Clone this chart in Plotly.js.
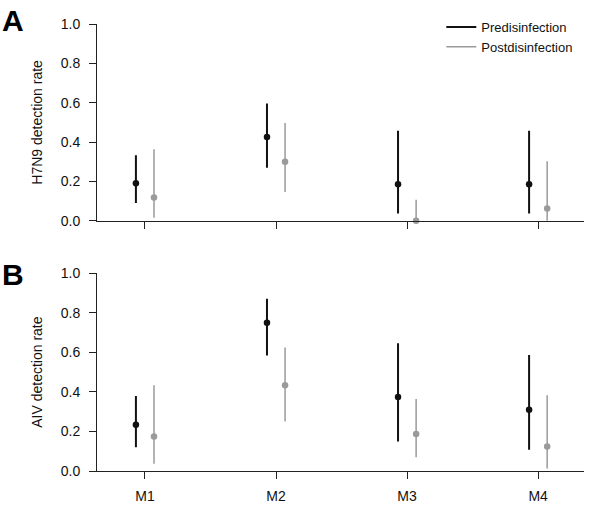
<!DOCTYPE html>
<html>
<head>
<meta charset="utf-8">
<script src="https://cdn.plot.ly/plotly-3.0.1.min.js"></script>
<style>
  body { margin: 0; background: #fff; }
  #chart { width: 600px; height: 514px; }
</style>
</head>
<body>
<div id="chart"></div>
<script>
// sites
const sites = ["M1", "M2", "M3", "M4"];

// H7N9 detection rate (panel A)
const h7n9Pre      = [0.191, 0.426, 0.186, 0.186];
const h7n9PreLow   = [0.090, 0.270, 0.037, 0.037];
const h7n9PreHigh  = [0.333, 0.596, 0.457, 0.457];
const h7n9Post     = [0.119, 0.300, 0.000, 0.062];
const h7n9PostLow  = [0.015, 0.146, 0.000, 0.000];
const h7n9PostHigh = [0.363, 0.497, 0.107, 0.303];

// AIV detection rate (panel B)
const aivPre      = [0.234, 0.750, 0.374, 0.310];
const aivPreLow   = [0.120, 0.584, 0.149, 0.107];
const aivPreHigh  = [0.379, 0.871, 0.646, 0.586];
const aivPost     = [0.175, 0.433, 0.187, 0.124];
const aivPostLow  = [0.037, 0.250, 0.070, 0.012];
const aivPostHigh = [0.434, 0.624, 0.364, 0.383];

const preColor = "#111111";
const postColor = "#9a9a9a";
const font = "Liberation Sans, Arial, sans-serif";

function pointTrace(vals, low, high, shift, color, lw, xa, ya) {
    return {
        x: sites.map((s, i) => i + 1 + shift),
        y: vals,
        xaxis: xa, yaxis: ya,
        type: "scatter",
        mode: "markers",
        showlegend: false,
        cliponaxis: false,
        marker: {color: color, size: 6.5},
        error_y: {
            type: "data",
            symmetric: false,
            array: high.map((h, i) => h - vals[i]),
            arrayminus: low.map((l, i) => vals[i] - l),
            color: color,
            thickness: lw,
            width: 0
        }
    };
}

const data = [
    pointTrace(h7n9Pre, h7n9PreLow, h7n9PreHigh, -0.069, preColor, 2, "x", "y"),
    pointTrace(h7n9Post, h7n9PostLow, h7n9PostHigh, 0.069, postColor, 1.5, "x", "y"),
    pointTrace(aivPre, aivPreLow, aivPreHigh, -0.069, preColor, 2, "x2", "y2"),
    pointTrace(aivPost, aivPostLow, aivPostHigh, 0.069, postColor, 1.5, "x2", "y2"),
    // legend entries drawn as lines
    {x: [null], y: [null], type: "scatter", mode: "lines", name: "Predisinfection",
     line: {color: preColor, width: 2}, xaxis: "x", yaxis: "y"},
    {x: [null], y: [null], type: "scatter", mode: "lines", name: "Postdisinfection",
     line: {color: postColor, width: 1.5}, xaxis: "x", yaxis: "y"}
];

function xAxis(showLabels, anchor) {
    return {
        anchor: anchor,
        range: [0.634, 4.35],
        tickvals: sites.map((s, i) => i + 1),
        ticktext: sites,
        showticklabels: showLabels,
        ticks: "outside", ticklen: 7, tickwidth: 1, tickcolor: "#222",
        ticklabelstandoff: 5,
        showline: true, linecolor: "#222", linewidth: 1,
        showgrid: false, zeroline: false,
        tickfont: {family: font, size: 14, color: "#111"}
    };
}

function yAxis(title, domain, anchor) {
    return {
        anchor: anchor,
        domain: domain,
        range: [0, 1],
        tickvals: [0, 0.2, 0.4, 0.6, 0.8, 1.0],
        tickformat: ".1f",
        ticks: "outside", ticklen: 7, tickwidth: 1, tickcolor: "#222",
        ticklabelstandoff: 6,
        showline: true, linecolor: "#222", linewidth: 1,
        showgrid: false, zeroline: false,
        tickfont: {family: font, size: 14, color: "#111"},
        title: {text: title, standoff: 14, font: {family: font, size: 14, color: "#111"}}
    };
}

const layout = {
    width: 600, height: 514,
    margin: {l: 97, r: 16, t: 19, b: 43},
    paper_bgcolor: "#fff", plot_bgcolor: "#fff",
    font: {family: font, color: "#111"},
    xaxis: xAxis(false, "y"),
    yaxis: yAxis("H7N9 detection rate", [0.5597, 1], "x"),
    xaxis2: xAxis(true, "y2"),
    yaxis2: yAxis("AIV detection rate", [0, 0.4425], "x2"),
    showlegend: true,
    legend: {
        x: 0.707, y: 1.027, xanchor: "left", yanchor: "top",
        bgcolor: "rgba(0,0,0,0)",
        font: {family: font, size: 13, color: "#111"},
        tracegroupgap: 0
    },
    annotations: [
        {text: "<b>A</b>", xref: "paper", yref: "paper", x: -0.199, y: 1.05,
         xanchor: "left", yanchor: "top", showarrow: false,
         font: {family: font, size: 30, color: "#000"}},
        {text: "<b>B</b>", xref: "paper", yref: "paper", x: -0.199, y: 0.482,
         xanchor: "left", yanchor: "top", showarrow: false,
         font: {family: font, size: 30, color: "#000"}}
    ]
};

Plotly.newPlot("chart", data, layout, {displayModeBar: false, staticPlot: true});
</script>
</body>
</html>
